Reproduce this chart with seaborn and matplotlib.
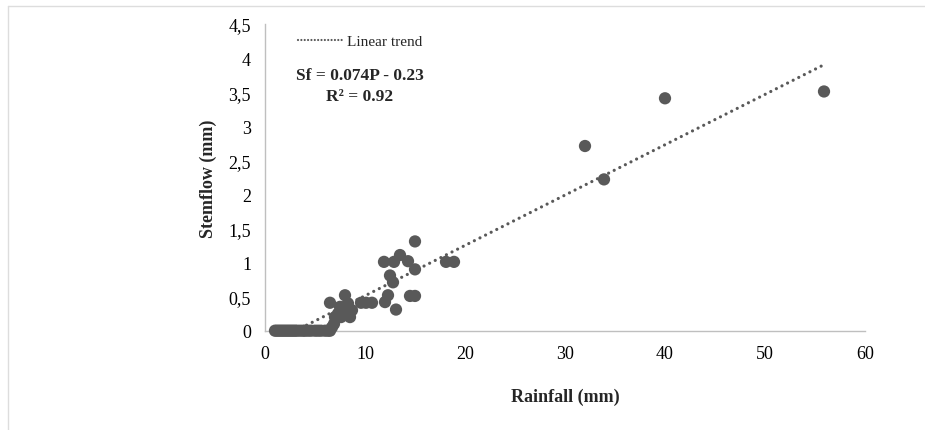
import matplotlib
matplotlib.use('Agg')
import matplotlib.pyplot as plt
from matplotlib.lines import Line2D
import seaborn as sns
import pandas as pd

# ------------------------------------------------------------
# data
# ------------------------------------------------------------
rainfall = [1.0, 1.2, 1.4, 1.6, 1.8, 2.0, 2.2, 2.4, 2.6, 2.8, 3.0, 3.2,
            3.5, 3.8, 4.0, 4.3, 4.6, 5.0, 5.3, 5.6, 6.0, 6.3, 6.5,
            6.7, 6.9, 7.0, 7.3, 7.6, 7.8, 8.0, 8.2, 8.5, 8.7, 7.5, 8.3,
            8.0, 6.5, 9.6, 10.1, 10.7, 12.0, 12.3, 12.5, 12.8, 13.1,
            11.9, 12.9, 13.5, 14.3, 15.0, 15.0, 14.5, 15.0, 18.1, 18.9,
            32.0, 33.9, 40.0, 55.9]
stemflow = [0, 0, 0, 0, 0, 0, 0, 0, 0, 0, 0, 0,
            0, 0, 0, 0, 0, 0, 0, 0, 0, 0, 0,
            0.05, 0.1, 0.2, 0.25, 0.2, 0.3, 0.35, 0.25, 0.2, 0.3, 0.35, 0.4,
            0.52, 0.41, 0.41, 0.41, 0.41, 0.42, 0.52, 0.81, 0.71, 0.31,
            1.01, 1.01, 1.11, 1.02, 0.9, 1.31, 0.51, 0.51, 1.01, 1.01,
            2.71, 2.22, 3.41, 3.51]

# fitted linear trend (Sf = 0.074P - 0.23), start / end points
trend_x = [3.6, 56.0]
trend_y = [0.04, 3.91]

x_ticks = [0, 10, 20, 30, 40, 50, 60]
y_ticks = [0, 0.5, 1, 1.5, 2, 2.5, 3, 3.5, 4, 4.5]
y_tick_labels = ['0', '0,5', '1', '1,5', '2', '2,5', '3', '3,5', '4', '4,5']

POINT_COLOR = '#595959'
AXIS_COLOR = '#bfbfbf'
DOTTED = (0, (0.01, 1.95))

sns.set_style('white')
plt.rcParams['font.family'] = ['Liberation Serif', 'DejaVu Serif']

df = pd.DataFrame({'Rainfall': rainfall, 'Stemflow': stemflow})
df_trend = pd.DataFrame({'Rainfall': trend_x, 'Stemflow': trend_y})

fig = plt.figure(figsize=(9.25, 4.31), dpi=100)
ax = fig.add_axes([265 / 925, 99.3 / 431, 600 / 925, 306.7 / 431])

sns.lineplot(data=df_trend, x='Rainfall', y='Stemflow', ax=ax,
             color=POINT_COLOR, lw=2.3, ls=DOTTED,
             dash_capstyle='round', label='Linear trend', zorder=1)
sns.scatterplot(data=df, x='Rainfall', y='Stemflow', ax=ax,
                color=POINT_COLOR, s=78, edgecolor='none', zorder=3,
                clip_on=False)

ax.set_xlim(0, 60)
ax.set_ylim(0, 4.5)
ax.set_xticks(x_ticks)
ax.set_xticklabels([str(t) for t in x_ticks])
ax.set_yticks(y_ticks)
ax.set_yticklabels(y_tick_labels)
ax.tick_params(axis='both', direction='out', length=5, width=1,
               color=AXIS_COLOR, labelsize=13, labelcolor='black', pad=5)

for side in ['top', 'right']:
    ax.spines[side].set_visible(False)
for side in ['left', 'bottom']:
    ax.spines[side].set_color(AXIS_COLOR)
    ax.spines[side].set_linewidth(1)
    ax.spines[side].set_zorder(2)

ax.set_xlabel('Rainfall (mm)', fontsize=13, fontweight='bold', labelpad=19)
ax.set_ylabel('Stemflow (mm)', fontsize=13, fontweight='bold', labelpad=8)

# legend, top left inside the plot
leg = ax.legend(loc='center left', bbox_to_anchor=(284 / 925, 1 - 42 / 431),
                bbox_transform=fig.transFigure, frameon=False,
                fontsize=11, handlelength=3.0, handletextpad=0.2)
for line in leg.get_lines():
    line.set_linewidth(1.6)
    line.set_linestyle((0, (0.01, 1.5)))
    line.set_dash_capstyle('round')

# equation
fig.text(360 / 925, 1 - 76 / 431, 'Sf = 0.074P - 0.23', ha='center', va='center',
         fontsize=12.5, fontweight='bold')
fig.text(360 / 925, 1 - 97 / 431, 'R² = 0.92', ha='center', va='center',
         fontsize=12.5, fontweight='bold')

# thin frame lines around the figure (top and left)
fig.add_artist(Line2D([8 / 925, 1], [1 - 7 / 431, 1 - 7 / 431],
                      transform=fig.transFigure, color='#dddddd', lw=1))
fig.add_artist(Line2D([8 / 925, 8 / 925], [0, 1 - 7 / 431],
                      transform=fig.transFigure, color='#dddddd', lw=1))

fig.savefig('out.png', dpi=100)
plt.close(fig)
